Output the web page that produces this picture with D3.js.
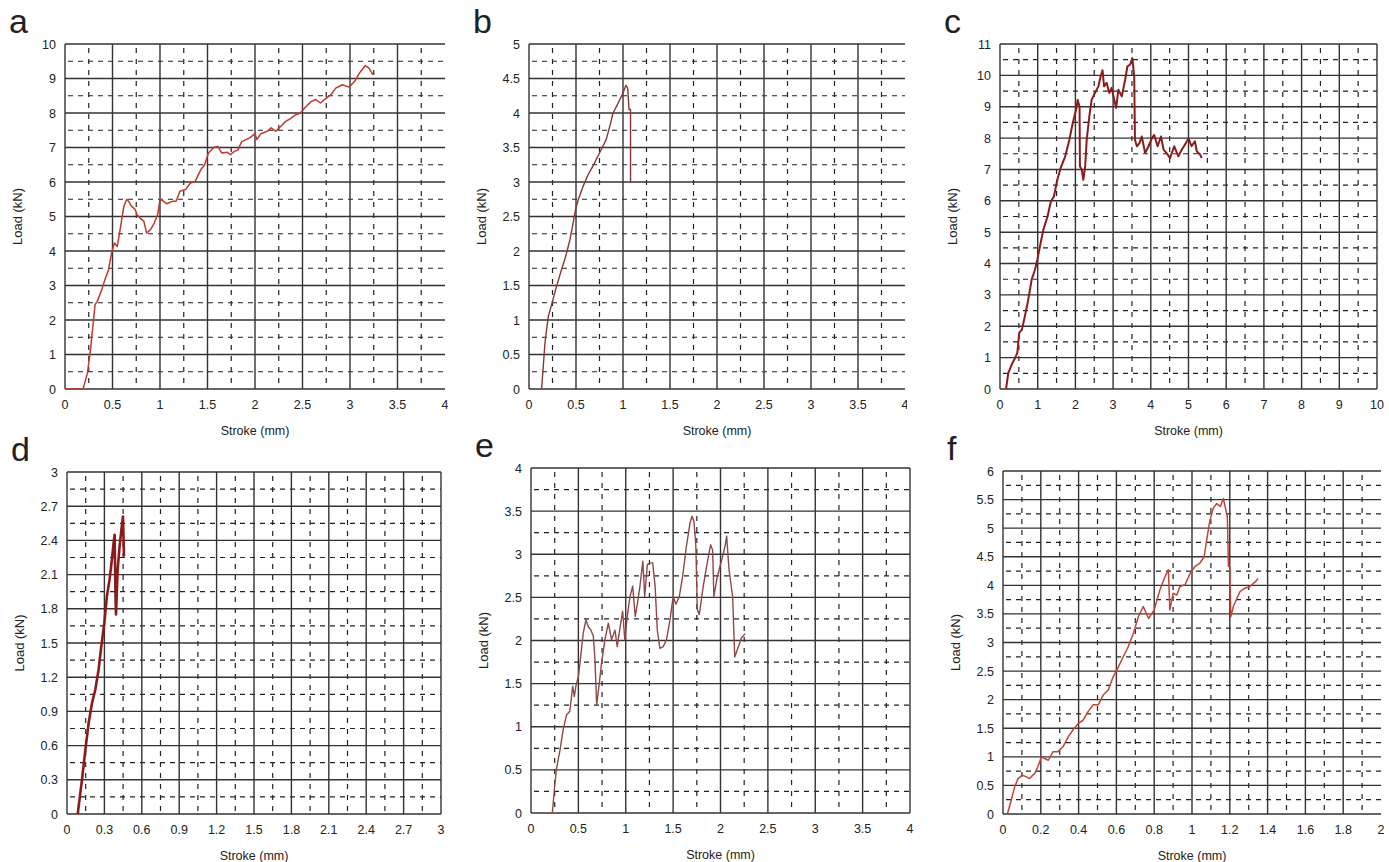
<!DOCTYPE html>
<html>
<head>
<meta charset="utf-8">
<script src="https://cdn.jsdelivr.net/npm/d3@7"></script>
<style>
  body { margin: 0; background: #fff; }
  svg text { font-family: "Liberation Sans", Arial, sans-serif; fill: #222; }
</style>
</head>
<body>
<svg id="chart" width="1389" height="862"></svg>
<script>
// Load-stroke curves (stroke in mm, load in kN)
const strokeA = [0, 0.19, 0.236, 0.264, 0.3, 0.317, 0.34, 0.387, 0.42, 0.458, 0.49, 0.52, 0.55, 0.58, 0.62, 0.65, 0.67, 0.70, 0.74, 0.757, 0.79, 0.83, 0.86, 0.90, 0.94, 0.975, 1.0, 1.04, 1.07, 1.13, 1.17, 1.21, 1.27, 1.32, 1.37, 1.43, 1.47, 1.51, 1.57, 1.61, 1.65, 1.71, 1.74, 1.78, 1.82, 1.86, 1.94, 2.0, 2.02, 2.06, 2.13, 2.17, 2.22, 2.27, 2.32, 2.38, 2.43, 2.48, 2.52, 2.59, 2.64, 2.69, 2.75, 2.80, 2.85, 2.92, 2.99, 3.05, 3.10, 3.16, 3.20, 3.24];
const loadA   = [0, 0, 0.46, 1.04, 2.0, 2.45, 2.54, 2.88, 3.17, 3.46, 3.94, 4.23, 4.13, 4.62, 5.3, 5.5, 5.44, 5.3, 5.2, 5.05, 4.96, 4.86, 4.52, 4.62, 4.81, 5.05, 5.5, 5.44, 5.37, 5.44, 5.44, 5.73, 5.78, 5.97, 6.02, 6.36, 6.5, 6.84, 7.01, 7.03, 6.84, 6.86, 6.79, 6.88, 6.93, 7.17, 7.27, 7.4, 7.23, 7.4, 7.47, 7.57, 7.47, 7.61, 7.75, 7.85, 7.95, 8.0, 8.14, 8.33, 8.39, 8.29, 8.43, 8.53, 8.72, 8.82, 8.75, 8.92, 9.16, 9.37, 9.30, 9.11];

const strokeB = [0.134, 0.152, 0.17, 0.205, 0.24, 0.293, 0.346, 0.39, 0.435, 0.47, 0.498, 0.523, 0.576, 0.63, 0.68, 0.75, 0.82, 0.86, 0.894, 0.947, 1.0, 1.03, 1.05, 1.064, 1.08, 1.08];
const loadB   = [0, 0.33, 0.67, 1.05, 1.22, 1.49, 1.73, 1.92, 2.16, 2.41, 2.62, 2.74, 2.94, 3.11, 3.23, 3.42, 3.61, 3.81, 4.0, 4.14, 4.29, 4.40, 4.36, 4.05, 4.05, 3.0];

const strokeC = [0.16, 0.22, 0.31, 0.40, 0.46, 0.51, 0.58, 0.66, 0.75, 0.84, 0.93, 0.99, 1.06, 1.15, 1.26, 1.35, 1.43, 1.52, 1.61, 1.73, 1.84, 1.93, 2.02, 2.06, 2.11, 2.12, 2.17, 2.21, 2.26, 2.30, 2.37, 2.43, 2.52, 2.61, 2.67, 2.72, 2.76, 2.83, 2.90, 2.96, 3.03, 3.08, 3.14, 3.23, 3.32, 3.38, 3.45, 3.51, 3.56, 3.58, 3.63, 3.70, 3.76, 3.85, 3.94, 4.03, 4.09, 4.18, 4.27, 4.34, 4.42, 4.51, 4.62, 4.73, 4.82, 4.93, 5.0, 5.08, 5.17, 5.22, 5.31, 5.35];
const loadC   = [0, 0.51, 0.78, 0.99, 1.15, 1.79, 1.89, 2.32, 2.85, 3.49, 3.81, 4.12, 4.55, 5.08, 5.50, 5.98, 6.14, 6.67, 7.05, 7.42, 7.95, 8.48, 8.91, 9.22, 9.01, 7.10, 6.99, 6.67, 7.10, 7.95, 8.69, 9.22, 9.44, 9.65, 9.97, 10.16, 9.65, 9.76, 9.44, 9.60, 9.22, 8.96, 9.54, 9.33, 9.86, 10.29, 10.34, 10.55, 9.97, 7.95, 7.74, 7.84, 8.05, 7.52, 7.74, 8.0, 8.1, 7.74, 8.05, 7.63, 7.52, 7.36, 7.74, 7.42, 7.63, 7.84, 8.0, 7.74, 7.90, 7.58, 7.47, 7.36];

const strokeD = [0.086, 0.12, 0.147, 0.174, 0.20, 0.227, 0.254, 0.275, 0.30, 0.32, 0.342, 0.36, 0.374, 0.382, 0.388, 0.393, 0.406, 0.422, 0.436, 0.449, 0.457];
const loadD   = [0, 0.30, 0.56, 0.80, 0.97, 1.09, 1.27, 1.47, 1.68, 1.91, 2.06, 2.23, 2.38, 2.45, 1.97, 1.75, 2.14, 2.35, 2.49, 2.61, 2.26];

const strokeE = [0.225, 0.253, 0.27, 0.306, 0.34, 0.376, 0.41, 0.44, 0.457, 0.475, 0.5, 0.524, 0.552, 0.58, 0.605, 0.633, 0.658, 0.675, 0.693, 0.72, 0.745, 0.78, 0.816, 0.85, 0.886, 0.91, 0.94, 0.967, 0.99, 1.016, 1.045, 1.073, 1.10, 1.122, 1.15, 1.18, 1.20, 1.228, 1.256, 1.284, 1.31, 1.333, 1.36, 1.396, 1.43, 1.467, 1.50, 1.53, 1.565, 1.60, 1.64, 1.678, 1.70, 1.72, 1.74, 1.755, 1.776, 1.818, 1.86, 1.895, 1.917, 1.93, 1.966, 2.01, 2.047, 2.065, 2.09, 2.128, 2.15, 2.19, 2.22, 2.26];
const loadE   = [0, 0.35, 0.52, 0.73, 0.97, 1.14, 1.18, 1.47, 1.35, 1.48, 1.58, 1.81, 2.09, 2.24, 2.16, 2.12, 2.05, 1.78, 1.25, 1.50, 1.74, 2.01, 2.20, 2.01, 2.12, 1.93, 2.15, 2.34, 2.01, 2.28, 2.51, 2.63, 2.28, 2.42, 2.63, 2.92, 2.51, 2.88, 2.90, 2.90, 2.63, 2.12, 1.91, 1.93, 2.01, 2.24, 2.51, 2.42, 2.51, 2.74, 3.09, 3.36, 3.44, 3.38, 3.09, 2.36, 2.30, 2.63, 2.90, 3.11, 3.05, 2.51, 2.74, 2.92, 3.09, 3.21, 2.82, 2.51, 1.81, 1.93, 2.03, 2.08];

const strokeF = [0.023, 0.044, 0.062, 0.08, 0.102, 0.124, 0.14, 0.168, 0.185, 0.203, 0.22, 0.24, 0.265, 0.29, 0.318, 0.345, 0.37, 0.40, 0.424, 0.45, 0.477, 0.504, 0.53, 0.557, 0.583, 0.61, 0.636, 0.663, 0.69, 0.716, 0.742, 0.77, 0.80, 0.83, 0.857, 0.875, 0.883, 0.90, 0.92, 0.936, 0.963, 0.99, 1.016, 1.042, 1.064, 1.078, 1.095, 1.113, 1.13, 1.15, 1.166, 1.175, 1.187, 1.193, 1.20, 1.205, 1.219, 1.237, 1.254, 1.28, 1.307, 1.334, 1.35];
const loadF   = [0, 0.245, 0.48, 0.62, 0.68, 0.65, 0.62, 0.71, 0.83, 1.0, 0.97, 0.94, 1.09, 1.09, 1.18, 1.35, 1.47, 1.59, 1.64, 1.79, 1.91, 1.91, 2.08, 2.17, 2.40, 2.57, 2.75, 2.93, 3.16, 3.45, 3.63, 3.42, 3.57, 3.92, 4.15, 4.27, 3.57, 3.86, 3.83, 3.98, 4.01, 4.21, 4.33, 4.39, 4.50, 4.80, 5.14, 5.35, 5.43, 5.38, 5.52, 5.38, 5.20, 4.33, 4.33, 3.45, 3.63, 3.77, 3.89, 3.95, 3.98, 4.06, 4.12];

// Tick labels
const strokeTicks4  = ["0", "0.5", "1", "1.5", "2", "2.5", "3", "3.5", "4"];
const strokeTicks10 = ["0", "1", "2", "3", "4", "5", "6", "7", "8", "9", "10"];
const strokeTicks3  = ["0", "0.3", "0.6", "0.9", "1.2", "1.5", "1.8", "2.1", "2.4", "2.7", "3"];
const strokeTicks2  = ["0", "0.2", "0.4", "0.6", "0.8", "1", "1.2", "1.4", "1.6", "1.8", "2"];
const loadTicksA = ["0", "1", "2", "3", "4", "5", "6", "7", "8", "9", "10"];
const loadTicksB = ["0", "0.5", "1", "1.5", "2", "2.5", "3", "3.5", "4", "4.5", "5"];
const loadTicksC = ["0", "1", "2", "3", "4", "5", "6", "7", "8", "9", "10", "11"];
const loadTicksD = ["0", "0.3", "0.6", "0.9", "1.2", "1.5", "1.8", "2.1", "2.4", "2.7", "3"];
const loadTicksE = ["0", "0.5", "1", "1.5", "2", "2.5", "3", "3.5", "4"];
const loadTicksF = ["0", "0.5", "1", "1.5", "2", "2.5", "3", "3.5", "4", "4.5", "5", "5.5", "6"];

const svg = d3.select("#chart");

const panels = [
  { id: "a", xs: strokeA, ys: loadA, xt: strokeTicks4,  yt: loadTicksA, box: [65, 44, 445, 389],     right: false, clip: 448,  color: "#c03a30", lw: 1.5 },
  { id: "b", xs: strokeB, ys: loadB, xt: strokeTicks4,  yt: loadTicksB, box: [529, 44, 905, 389],    right: false, clip: 907,  color: "#8a3535", lw: 1.4 },
  { id: "c", xs: strokeC, ys: loadC, xt: strokeTicks10, yt: loadTicksC, box: [1000, 44, 1377, 389],  right: true,  clip: 1385, color: "#8b1c1c", lw: 2 },
  { id: "d", xs: strokeD, ys: loadD, xt: strokeTicks3,  yt: loadTicksD, box: [67, 472, 441, 814],    right: true,  clip: 460,  color: "#8b1a1a", lw: 2.6 },
  { id: "e", xs: strokeE, ys: loadE, xt: strokeTicks4,  yt: loadTicksE, box: [531, 468, 910, 813],   right: true,  clip: 930,  color: "#8e4848", lw: 1.4 },
  { id: "f", xs: strokeF, ys: loadF, xt: strokeTicks2,  yt: loadTicksF, box: [1003, 471, 1381, 814], right: false, clip: 1385, color: "#c0443a", lw: 1.5 }
];

panels.forEach(drawPanel);

function drawPanel(p) {
  const [x0, y0, x1, y1] = p.box;
  const xVals = p.xt.map(Number), yVals = p.yt.map(Number);
  const x = d3.scaleLinear().domain([0, d3.max(xVals)]).range([x0, x1]);
  const y = d3.scaleLinear().domain([0, d3.max(yVals)]).range([y1, y0]);

  svg.append("clipPath").attr("id", "clip-" + p.id)
     .append("rect").attr("x", 0).attr("y", 0).attr("width", p.clip).attr("height", 862);
  const g = svg.append("g").attr("clip-path", `url(#clip-${p.id})`);

  // minor dashed grid at half steps
  const xMid = d3.pairs(xVals).map(([a, b]) => (a + b) / 2);
  const yMid = d3.pairs(yVals).map(([a, b]) => (a + b) / 2);
  g.selectAll(".vmin").data(xMid).enter().append("line")
    .attr("x1", d => x(d)).attr("x2", d => x(d)).attr("y1", y0 + 4).attr("y2", y1)
    .attr("stroke", "#222").attr("stroke-width", 1.2).attr("stroke-dasharray", "5,6");
  g.selectAll(".hmin").data(yMid).enter().append("line")
    .attr("x1", x0 + 3).attr("x2", x1).attr("y1", d => y(d)).attr("y2", d => y(d))
    .attr("stroke", "#222").attr("stroke-width", 1.2).attr("stroke-dasharray", "5,5");

  // major solid grid
  const vMajor = p.right ? xVals : xVals.slice(0, -1);
  g.selectAll(".vmaj").data(vMajor).enter().append("line")
    .attr("x1", d => x(d)).attr("x2", d => x(d)).attr("y1", y0).attr("y2", y1)
    .attr("stroke", "#333").attr("stroke-width", 1.4);
  g.selectAll(".hmaj").data(yVals).enter().append("line")
    .attr("x1", x0).attr("x2", x1).attr("y1", d => y(d)).attr("y2", d => y(d))
    .attr("stroke", "#333").attr("stroke-width", 1.4);

  // tick labels
  g.selectAll(".xl").data(p.xt).enter().append("text")
    .attr("x", d => x(+d)).attr("y", y1 + 20).attr("text-anchor", "middle")
    .attr("font-size", 12.5).text(d => d);
  g.selectAll(".yl").data(p.yt).enter().append("text")
    .attr("x", x0 - 9).attr("y", d => y(+d) + 4.5).attr("text-anchor", "end")
    .attr("font-size", 12.5).text(d => d);

  // curve
  const pts = p.xs.map((v, i) => [v, p.ys[i]]);
  g.append("path").datum(pts)
    .attr("d", d3.line().x(d => x(d[0])).y(d => y(d[1])))
    .attr("fill", "none").attr("stroke", p.color).attr("stroke-width", p.lw)
    .attr("stroke-linejoin", "round");

  // axis titles and panel letter
  svg.append("text").attr("x", (x0 + x1) / 2).attr("y", y1 + 46)
    .attr("text-anchor", "middle").attr("font-size", 12.5).text("Stroke (mm)");
  svg.append("text")
    .attr("transform", `translate(${x0 - 43},${(y0 + y1) / 2}) rotate(-90)`)
    .attr("text-anchor", "middle").attr("font-size", 13).text("Load (kN)");
  svg.append("text").attr("x", x0 - 56).attr("y", y0 - 11)
    .attr("font-size", 34).attr("fill", "#111").text(p.id);
}
</script>
</body>
</html>
